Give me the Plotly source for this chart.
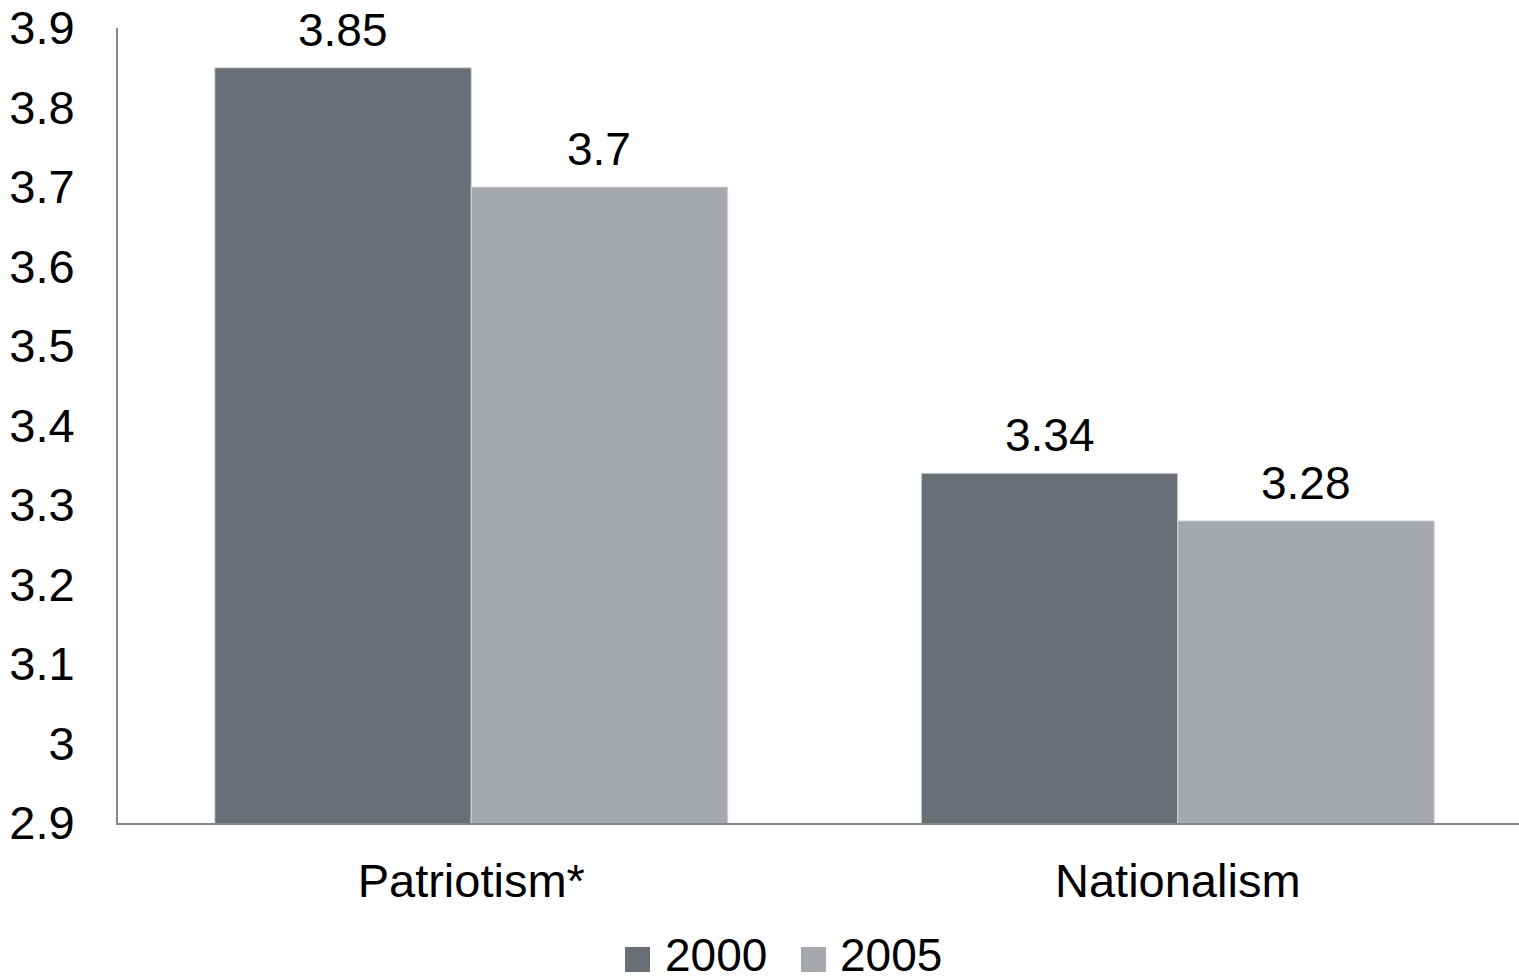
import plotly.graph_objects as go

categories = ["Patriotism*", "Nationalism"]
years = ["2000", "2005"]
values_2000 = [3.85, 3.34]
values_2005 = [3.7, 3.28]
colors = ["#6a6e75", "#a5a8ac"]
y_ticks = [2.9, 3.0, 3.1, 3.2, 3.3, 3.4, 3.5, 3.6, 3.7, 3.8, 3.9]
y_tick_text = ["2.9", "3", "3.1", "3.2", "3.3", "3.4", "3.5", "3.6", "3.7", "3.8", "3.9"]

FONT = "Liberation Sans, Arial, sans-serif"
W, H = 1519, 980
ML, MR, MT, MB = 118, 0, 28, 157
BAR_PX = 256  # pixel width of a single bar

fig = go.Figure()
series = [values_2000, values_2005]
for name, vals, col in zip(years, series, colors):
    fig.add_trace(go.Bar(
        x=categories, y=vals, name=name,
        marker=dict(color=col, line=dict(color="#d4d5d7", width=1)),
        showlegend=False,
    ))

# value labels above each bar
for i, vals in enumerate(series):
    shift = (i - 0.5) * BAR_PX
    for cat, v in zip(categories, vals):
        fig.add_annotation(x=cat, y=v, text=f"{v:g}", showarrow=False,
                           xanchor="center", yanchor="bottom", xshift=shift, yshift=10,
                           font=dict(size=46, color="#000000", family=FONT))

# legend drawn below the axis
plot_w = W - ML - MR
plot_h = H - MT - MB
def px_x(p):
    return (p - ML) / plot_w
def px_y(p):
    return (H - MB - p) / plot_h

legend_items = [(625, 663), (801, 838)]
for (sq_x, tx_x), name, col in zip(legend_items, years, colors):
    fig.add_shape(type="rect", xref="paper", yref="paper",
                  x0=px_x(sq_x), x1=px_x(sq_x + 25), y0=px_y(972), y1=px_y(947),
                  fillcolor=col, line=dict(width=0))
    fig.add_annotation(xref="paper", yref="paper", x=px_x(tx_x), y=px_y(955),
                       text=name, showarrow=False, xanchor="left", yanchor="middle",
                       font=dict(size=46, color="#000000", family=FONT))

fig.update_layout(
    width=W, height=H,
    margin=dict(l=ML, r=MR, t=MT, b=MB, autoexpand=False),
    paper_bgcolor="white", plot_bgcolor="white",
    barmode="group", bargap=0.274, bargroupgap=0,
    font=dict(family=FONT, size=46, color="#000000"),
    showlegend=False,
    xaxis=dict(range=[-0.5, 1.483], showline=True, linecolor="#868686", linewidth=2,
               ticks="", showgrid=False, tickfont=dict(size=47), ticklabelstandoff=16,
               automargin=False),
    yaxis=dict(range=[2.9, 3.9], showline=True, linecolor="#868686", linewidth=2,
               ticks="", showgrid=False, zeroline=False, tickvals=y_ticks, ticktext=y_tick_text,
               tickfont=dict(size=47), ticklabelstandoff=32, automargin=False),
)

fig.write_html("out.html")
